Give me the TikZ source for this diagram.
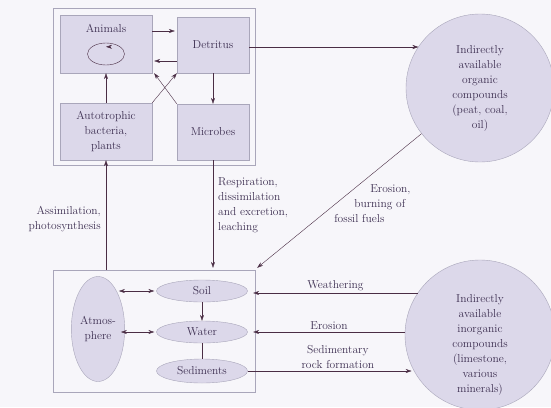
\documentclass[tikz,border=0pt]{standalone}
\usepackage{fontspec}
\usetikzlibrary{shapes.geometric,arrows.meta,positioning,calc}
\definecolor{boxfill}{HTML}{DCD8EA}
\definecolor{boxline}{HTML}{A9A6BA}
\definecolor{inkline}{HTML}{4A2D44}
\definecolor{inktext}{HTML}{3E3052}
\definecolor{paper}{HTML}{F7F6FA}
\tikzset{
    x=1pt, y=-1pt, semithick,
    every node/.style={text=inktext, font=\fontsize{11.5}{15}\selectfont\addfontfeatures{LetterSpace=5}},
    frame/.style={rectangle, draw=boxline, thin},
    box/.style={rectangle, draw=boxline, fill=boxfill, thin, align=center},
    pool/.style={ellipse, draw=boxline, fill=boxfill, thin, inner sep=1pt, align=center},
    reservoir/.style={circle, draw=boxline, fill=boxfill, thin, minimum size=148pt, align=center},
    flow/.style={draw=inkline, -{Stealth[length=6pt,width=4pt]}},
    flows/.style={draw=inkline, {Stealth[length=6pt,width=4pt]}-{Stealth[length=6pt,width=4pt]}},
    el/.style={inner sep=2pt}
}
\begin{document}
\begin{tikzpicture}
    \fill[paper] (0,0) rectangle (551,407);
    \useasboundingbox (0,0) rectangle (551,407);
    % Living compartment
    \node[frame, minimum width=202pt, minimum height=157pt] (living) at (154,86.5) {};
    \node[box, minimum width=92pt, minimum height=58pt,
          label={[anchor=north, inner sep=9pt]north:Animals}] (animals) at (106,44) {};
    \node[ellipse, draw=inkline, thin, minimum width=37pt, minimum height=22pt, inner sep=0pt] (loop) at (106,54) {};
    \node[box, minimum width=72pt, minimum height=56pt] (detritus) at (213,45) {Detritus};
    \node[box, minimum width=92pt, minimum height=57pt] (autotroph) at (106,131.5) {Autotrophic\\bacteria,\\plants};
    \node[box, minimum width=72pt, minimum height=56pt] (microbes) at (213,132) {Microbes};
    % Abiotic compartment
    \node[frame, minimum width=202pt, minimum height=122pt] (abiotic) at (154,331) {};
    \node[pool, minimum width=50pt, minimum height=105pt] (atmos) at (98,329) {Atmos-\\phere};
    \node[pool, minimum width=91pt, minimum height=22pt] (soil) at (202,291) {Soil};
    \node[pool, minimum width=91pt, minimum height=22pt] (water) at (202,332) {Water};
    \node[pool, minimum width=91pt, minimum height=24pt] (sediments) at (202,371) {Sediments};
    % Reservoirs
    \node[reservoir] (organic) at (480,88) {Indirectly\\available\\organic\\compounds\\(peat, coal,\\oil)};
    \node[reservoir, minimum size=150pt] (inorganic) at (480,335) {};
    \node[align=center] (inorgtext) at (480,345) {Indirectly\\available\\inorganic\\compounds\\(limestone,\\various\\minerals)};
    % Flows inside the living part
    \draw[flow] ([yshift=-4pt]loop.north) ++(5pt,0) -- ([yshift=-4pt]loop.north);
    \draw[flow] ([yshift=13pt]animals.east) -- ([yshift=13pt,xshift=-2pt]animals.east -| detritus.west);
    \draw[flow] ([yshift=-16pt]detritus.west) -- ([yshift=-16pt,xshift=2pt]detritus.west -| animals.east);
    \draw[flow] (detritus) -- (microbes);
    \draw[flow] (autotroph) -- (animals);
    \draw[flow] (autotroph.north east) -- (detritus.south west);
    \draw[flow] (microbes.north west) -- ([xshift=2pt]animals.south east);
    \draw[flow] ([yshift=-2pt]detritus.east) -- ([yshift=-2pt]detritus.east -| organic.146);
    % Exchange between the two parts
    \draw[flow] (microbes.south) -- ([yshift=2pt]microbes.south |- abiotic.north)
        node[el, right=3pt, pos=0.42, align=left] {Respiration,\\dissimilation\\and excretion,\\leaching};
    \draw[flow] (autotroph.south |- abiotic.north) -- (autotroph.south)
        node[el, left=3pt, pos=0.46, align=right] {Assimilation,\\photosynthesis};
    \draw[flow] (organic.218) -- ([shift={(2pt,2pt)}]abiotic.north east)
        node[el, pos=0.52, anchor=west, xshift=-4pt, align=left] {\hspace{36pt}Erosion,\\\hspace{20pt}burning of\\fossil fuels};
    % Flows inside the abiotic part
    \draw[flows] ([xshift=-2pt]soil.west) -- ([xshift=-6pt]soil.west -| atmos.east);
    \draw[flows] ([xshift=-2pt]water.west) -- ([xshift=-4pt]water.west -| atmos.east);
    \draw[flow] (soil) -- (water);
    \draw[draw=inkline, thick] (water.south) -- (sediments.north);
    % Exchange with the inorganic reservoir
    \draw[flow] ([yshift=-2pt]soil.east -| inorganic.146) -- ([yshift=-2pt,xshift=-2pt]soil.east -| abiotic.east)
        node[el, above, pos=0.5] {Weathering};
    \draw[flow] (water.east -| inorganic.west) -- ([xshift=-2pt]water.east -| abiotic.east)
        node[el, above, pos=0.5] {Erosion};
    \draw[flow] (sediments.east) -- ([xshift=-2pt]sediments.east -| inorganic.208)
        node[el, above, pos=0.55, align=center] {Sedimentary\\rock formation};
\end{tikzpicture}
\end{document}
